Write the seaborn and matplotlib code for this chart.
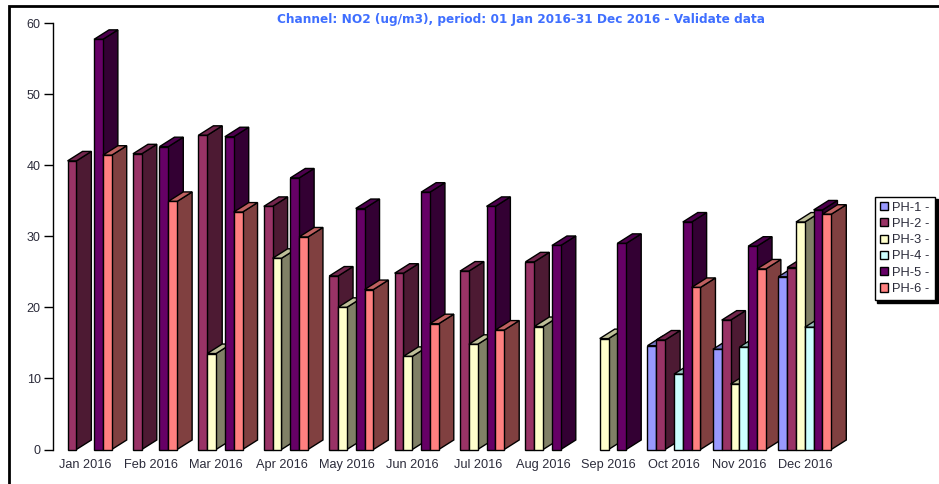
import numpy as np
import pandas as pd
import matplotlib
matplotlib.use("Agg")
import matplotlib.pyplot as plt
import seaborn as sns
from matplotlib.colors import to_rgb
from matplotlib.patches import Polygon, Rectangle

# Monthly NO2 values per station, nan = no data
months = ["Jan 2016", "Feb 2016", "Mar 2016", "Apr 2016", "May 2016", "Jun 2016",
          "Jul 2016", "Aug 2016", "Sep 2016", "Oct 2016", "Nov 2016", "Dec 2016"]
nan = np.nan
ph1 = [nan, nan, nan, nan, nan, nan, nan, nan, nan, 14.6, 14.1, 24.3]
ph2 = [40.6, 41.6, 44.2, 34.2, 24.4, 24.8, 25.1, 26.4, nan, 15.4, 18.2, 25.6]
ph3 = [nan, nan, 13.5, 26.9, 20.0, 13.1, 14.8, 17.3, 15.6, nan, 9.2, 32.0]
ph4 = [nan, nan, nan, nan, nan, nan, nan, nan, nan, 10.6, 14.4, 17.2]
ph5 = [57.7, 42.6, 44.0, 38.2, 33.9, 36.2, 34.2, 28.7, 29.0, 32.0, 28.6, 33.7]
ph6 = [41.4, 34.9, 33.4, 29.9, 22.5, 17.7, 16.8, nan, nan, 22.8, 25.4, 33.1]

stations = ["PH-1 -", "PH-2 -", "PH-3 -", "PH-4 -", "PH-5 -", "PH-6 -"]
colors = ["#9999FF", "#993366", "#FFFFCC", "#CCFFFF", "#660066", "#FF8080"]
title = "Channel: NO2 (ug/m3), period: 01 Jan 2016-31 Dec 2016 - Validate data"

# Long table for seaborn
df = pd.DataFrame({
    "month": months * 6,
    "station": np.repeat(stations, 12),
    "value": ph1 + ph2 + ph3 + ph4 + ph5 + ph6,
}).dropna()

sns.set_style("white")
plt.rcParams["font.family"] = ["Liberation Sans", "DejaVu Sans"]

W, H = 939, 484
fig = plt.figure(figsize=(W / 100, H / 100), dpi=100)
ax = fig.add_axes([52.5 / W, 1 - 449.5 / H, 785.0 / W, 426.5 / H])

sns.barplot(data=df, x="month", y="value", hue="station", order=months,
            hue_order=stations, palette=colors, saturation=1, width=0.81, gap=0,
            dodge=True, edgecolor="black", linewidth=1, ax=ax)

ax.set_xlim(-0.5, 11.5)
ax.set_ylim(0, 60)
ax.set_yticks(range(0, 61, 10))
ax.set_xlabel("")
ax.set_ylabel("")
sns.despine(ax=ax, bottom=True)
ax.spines["left"].set_color("black")
ax.spines["left"].set_linewidth(1)
ax.tick_params(axis="y", length=6.5, width=1, color="black", pad=2,
               labelsize=9, labelcolor="#2b2b3a", left=True)
ax.tick_params(axis="x", length=0, pad=7, labelsize=9.2, labelcolor="#2b2b3a")

# Fake 3D: side and top faces added to every seaborn bar
dx = 15 / 65.4
dy = 9.5 / 7.11
for j, cont in enumerate(ax.containers):
    base = np.array(to_rgb(colors[j]))
    for bar in cont:
        x, w, h = bar.get_x(), bar.get_width(), bar.get_height()
        if np.isnan(h):
            continue
        z = 2 + round(x + w / 2) * 6 + j
        bar.set_zorder(z + 0.2)
        bar.set_clip_on(False)
        side = [(x + w, 0), (x + w + dx, dy), (x + w + dx, h + dy), (x + w, h)]
        top = [(x, h), (x + dx, h + dy), (x + w + dx, h + dy), (x + w, h)]
        ax.add_patch(Polygon(side, closed=True, fc=base * 0.5, ec="black", lw=1,
                             zorder=z, clip_on=False))
        ax.add_patch(Polygon(top, closed=True, fc=base * 0.75, ec="black", lw=1,
                             zorder=z + 0.1, clip_on=False))

sns.move_legend(ax, "upper left", bbox_to_anchor=(874.5 / W, 1 - 196.5 / H),
                bbox_transform=fig.transFigure, title=None, frameon=True,
                fancybox=False, edgecolor="black", framealpha=1, fontsize=9.3,
                shadow={"color": "black", "alpha": 1}, borderaxespad=0,
                borderpad=0.4, labelspacing=0.33, handlelength=0.62,
                handleheight=0.6, handletextpad=0.35, labelcolor="#2b2b3a")
ax.get_legend().get_frame().set_linewidth(1)
ax.get_legend().set_zorder(200)

fig.suptitle(title, x=521 / W, y=1 - 20 / H, ha="center", va="center",
             color="#3F6FFF", fontsize=8.7, fontweight="bold", family="DejaVu Sans")

# Black frame of the screenshot, runs off the right and bottom edges
fig.add_artist(Rectangle((9 / W, -0.2), 1.2, 1.2 - 5.5 / H, transform=fig.transFigure,
                         fill=False, ec="black", lw=2))

fig.savefig("out.png", dpi=100)
